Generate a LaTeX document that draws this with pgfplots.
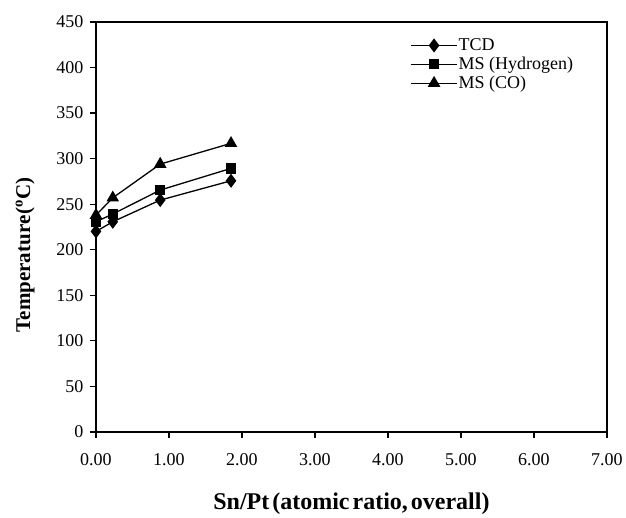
\documentclass[border=0pt]{standalone}
\usepackage{pgfplots}
\pgfplotsset{compat=1.18}
\usepackage{fontspec}
\setmainfont{Liberation Serif}
\begin{document}
\begin{tikzpicture}
\begin{axis}[
  scale only axis,
  width=511pt, height=410pt,
  xmin=0, xmax=7, ymin=0, ymax=450,
  xtick={0,1,...,7},
  ytick={0,50,...,450},
  xticklabel style={/pgf/number format/fixed, /pgf/number format/fixed zerofill, /pgf/number format/precision=2, yshift=-12pt},
  yticklabel style={xshift=-3pt},
  /pgf/number format/assume math mode=true,
  tick label style={font=\fontsize{18}{21}\selectfont},
  tick align=outside,
  major tick length=6pt,
  xtick pos=bottom, ytick pos=left,
  axis line style={line width=1.4pt},
  every tick/.style={line width=1.2pt, black},
  xlabel={\textbf{Sn/Pt\hspace{3pt}(atomic\hspace{3pt}ratio,\hspace{3pt}overall)}},
  ylabel={\textbf{Temperature\hspace{1pt}(\textsuperscript{o}C)}},
  xlabel style={font=\fontsize{24}{27}\selectfont, yshift=-20pt},
  ylabel style={font=\fontsize{21}{24}\selectfont, yshift=15pt, xshift=-28pt},
  legend style={draw=none, fill=none, at={(0.615,0.962)}, anchor=north west, inner sep=0pt, font=\fontsize{18}{18}\selectfont, row sep=3pt, nodes={inner sep=1pt}},
  legend cell align=left,
  legend image code/.code={\draw[mark repeat=2,mark phase=2,line width=1.3pt,#1] plot coordinates {(0pt,0pt) (23pt,0pt) (46pt,0pt)};},
]
\addplot[black, line width=1.3pt, mark=diamond*, mark size=6pt, mark options={solid, fill=black}] coordinates {(0,220.1) (0.23,230.7) (0.88,254.5) (1.85,275.7)};
\addlegendentry{TCD}
\addplot[black, line width=1.3pt, mark=square*, mark size=4.5pt, mark options={solid, fill=black}] coordinates {(0,230.7) (0.23,239.2) (0.88,265.5) (1.85,289.3)};
\addlegendentry{MS (Hydrogen)}
\addplot[black, line width=1.3pt, mark=triangle*, mark size=6pt, mark options={solid, fill=black}] coordinates {(0,238) (0.23,257) (0.88,294) (1.85,316.8)};
\addlegendentry{MS (CO)}
\end{axis}
\path (current axis.south west) ++(-96pt,-74pt) coordinate (bbA);
\path (current axis.north east) ++(19pt,22pt) coordinate (bbB);
\useasboundingbox (bbA) rectangle (bbB);
\end{tikzpicture}
\end{document}
